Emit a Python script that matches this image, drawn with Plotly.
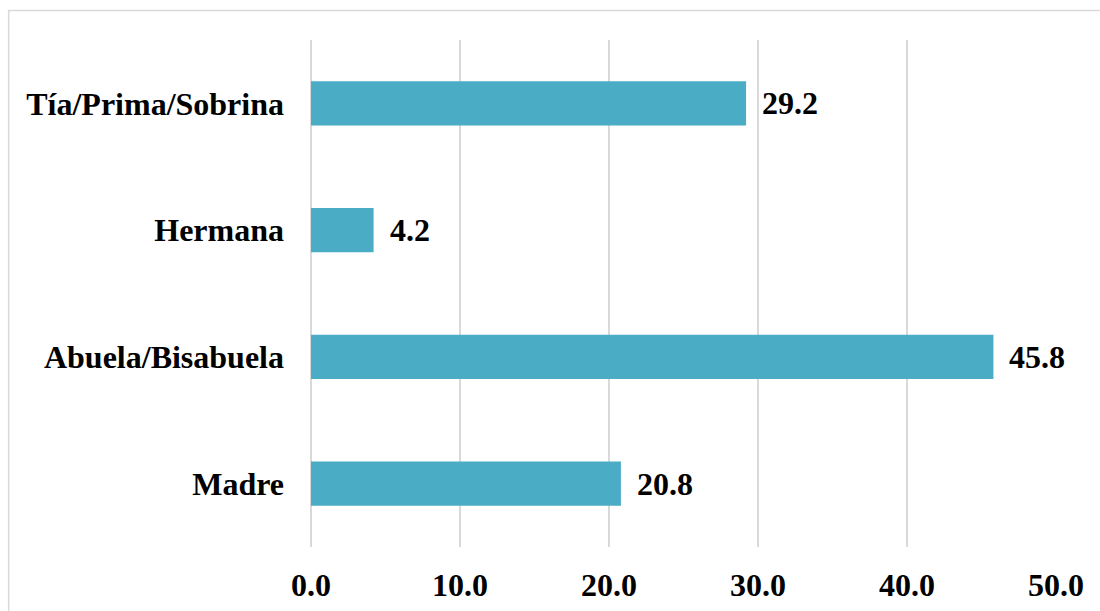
import plotly.graph_objects as go

categories = ["Madre", "Abuela/Bisabuela", "Hermana", "Tía/Prima/Sobrina"]
values = [20.8, 45.8, 4.2, 29.2]
tick_vals = [0, 10, 20, 30, 40, 50]
tick_text = ["0.0", "10.0", "20.0", "30.0", "40.0", "50.0"]

BAR_COLOR = "#4BACC6"
GRID_COLOR = "#D9D9D9"
FONT = dict(family="Liberation Serif", size=32, color="#000000")

fig = go.Figure()
fig.add_trace(go.Bar(
    y=categories,
    x=values,
    orientation="h",
    marker=dict(color=BAR_COLOR, line=dict(width=0)),
    width=0.35,
    hoverinfo="skip",
))

# value labels just past the end of each bar
for cat, val in zip(categories, values):
    fig.add_annotation(
        x=val, y=cat, text=f"<b>{val:.1f}</b>",
        xanchor="left", yanchor="middle", showarrow=False,
        xshift=14, font=FONT,
    )

# light frame around the chart
fig.add_shape(
    type="rect", xref="paper", yref="paper",
    x0=-0.4058, x1=1.2, y0=-0.3, y1=1.0582,
    line=dict(color=GRID_COLOR, width=1.5), fillcolor="rgba(0,0,0,0)",
    layer="below",
)

fig.update_layout(
    width=1100, height=611,
    margin=dict(l=310.5, r=44, t=40, b=64),
    paper_bgcolor="white", plot_bgcolor="white",
    font=FONT,
    showlegend=False,
    xaxis=dict(
        range=[0, 50], tickvals=tick_vals,
        ticktext=[f"<b>{t}</b>" for t in tick_text],
        showgrid=True, gridcolor=GRID_COLOR, gridwidth=1.5,
        zeroline=True, zerolinecolor=GRID_COLOR, zerolinewidth=1.5,
        showline=False, ticks="", automargin=False,
        ticklabelstandoff=16, fixedrange=True,
    ),
    yaxis=dict(
        categoryorder="array", categoryarray=categories,
        tickvals=categories,
        ticktext=[f"<b>{c}</b>" for c in categories],
        showgrid=False, zeroline=False, showline=False, ticks="",
        automargin=False,
        ticklabelstandoff=26, fixedrange=True,
    ),
)

fig.write_html("out.html")
